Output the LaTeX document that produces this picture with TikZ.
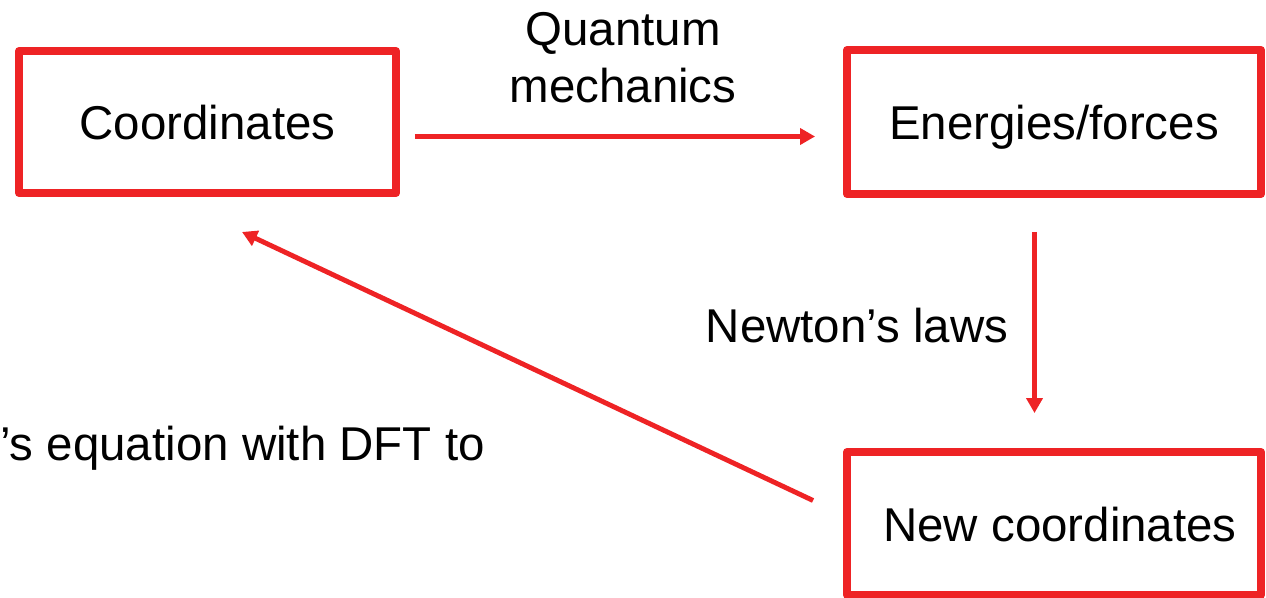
\documentclass[tikz,border=0pt]{standalone}
\usepackage{fontspec}
\setmainfont{Liberation Sans}
\usetikzlibrary{arrows.meta}
\definecolor{boxred}{HTML}{EE2325}

\begin{document}
\begin{tikzpicture}[
  every node/.style={font=\fontsize{27}{32.4}\selectfont},
  box/.style={draw=boxred, rectangle, line width=4.5pt, line join=round, inner sep=0pt,
    minimum width=8.28cm, minimum height=2.86cm, text height=24pt, text depth=4pt},
  flow/.style={draw=boxred, line width=2.8pt, -{Triangle[length=0.3cm,width=0.32cm]}}]
\useasboundingbox (0,0) rectangle (25.32,-11.96);
\node[box, minimum width=7.54cm, minimum height=2.84cm] (C) at (4.15,-2.44) {Coordinates};
\node[box, minimum height=2.88cm] (E) at (21.08,-2.44) {Energies/forces};
\node[box] (N) at (21.08,-10.47) {\hspace*{0.24cm}New coordinates};
\node[align=center] (qm) at (12.46,-1.15) {Quantum\\mechanics};
\node[anchor=base] (nl) at (17.14,-6.86) {Newton’s laws};
\node[anchor=base east, inner sep=0pt] (se) at (9.7,-9.2) {’s equation with DFT to};
\draw[flow, shorten <=0.3cm, shorten >=0.56cm] ([yshift=-0.29cm]C.east) -- ([yshift=-0.29cm]E.west);
\draw[flow, shorten <=0.68cm, shorten >=0.7cm] ([xshift=-0.39cm]E.south) -- ([xshift=-0.39cm]N.north);
\draw[flow] ([shift={(-0.6,0.46)}]N.west) -- ([shift={(0.69,-0.7)}]C.south);
\end{tikzpicture}
\end{document}
